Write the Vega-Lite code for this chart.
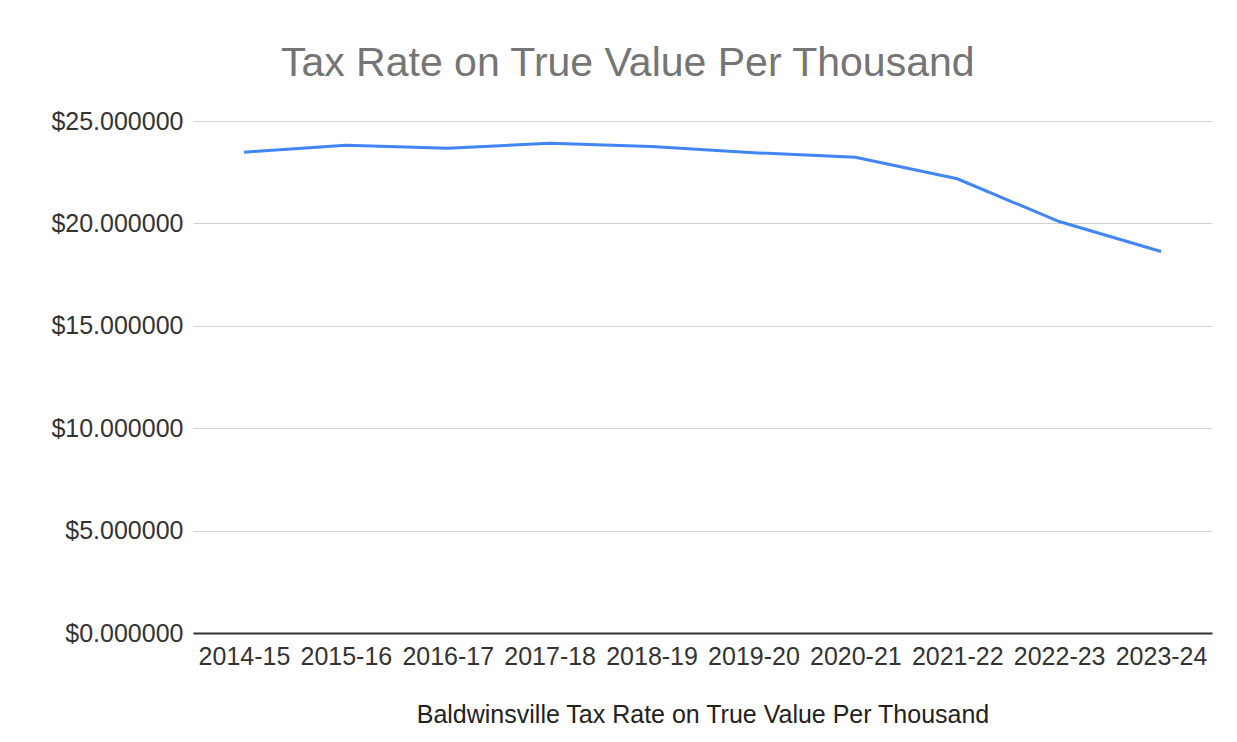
{
  "$schema": "https://vega.github.io/schema/vega-lite/v6.json",
  "autosize": "none",
  "width": 1019,
  "height": 512,
  "padding": {"left": 193, "top": 121, "right": 25, "bottom": 109},
  "background": "white",
  "title": {
    "text": "Tax Rate on True Value Per Thousand",
    "anchor": "start",
    "dx": 230,
    "offset": 24,
    "font": "Liberation Sans",
    "fontSize": 41,
    "fontWeight": "normal",
    "color": "#757575"
  },
  "data": {
    "values": [
      {"year": "2014-15", "rate": 23.48},
      {"year": "2015-16", "rate": 23.82},
      {"year": "2016-17", "rate": 23.67},
      {"year": "2017-18", "rate": 23.91},
      {"year": "2018-19", "rate": 23.75},
      {"year": "2019-20", "rate": 23.45},
      {"year": "2020-21", "rate": 23.23},
      {"year": "2021-22", "rate": 22.18},
      {"year": "2022-23", "rate": 20.09},
      {"year": "2023-24", "rate": 18.63}
    ]
  },
  "mark": {"type": "line", "color": "#4285F4", "strokeWidth": 3},
  "encoding": {
    "x": {
      "field": "year",
      "type": "ordinal",
      "sort": null,
      "scale": {"type": "point", "padding": 0.5},
      "axis": {
        "title": "Baldwinsville Tax Rate on True Value Per Thousand",
        "labelAngle": 0,
        "labelFont": "Liberation Sans",
        "labelFontSize": 25,
        "labelColor": "#333333",
        "labelPadding": 11,
        "ticks": false,
        "domain": true,
        "domainColor": "#333333",
        "domainWidth": 2,
        "grid": false,
        "titleFont": "Liberation Sans",
        "titleFontSize": 25,
        "titleFontWeight": "normal",
        "titleColor": "#222222",
        "titlePadding": 33
      }
    },
    "y": {
      "field": "rate",
      "type": "quantitative",
      "scale": {"domain": [0, 25], "nice": false, "zero": true},
      "axis": {
        "title": null,
        "values": [0, 5, 10, 15, 20, 25],
        "format": "$.6f",
        "labelFont": "Liberation Sans",
        "labelFontSize": 25,
        "labelColor": "#333333",
        "labelPadding": 10,
        "ticks": false,
        "domain": false,
        "grid": true,
        "gridColor": "#d0d0d0",
        "gridWidth": 1.2
      }
    }
  },
  "config": {
    "view": {"stroke": null}
  }
}
